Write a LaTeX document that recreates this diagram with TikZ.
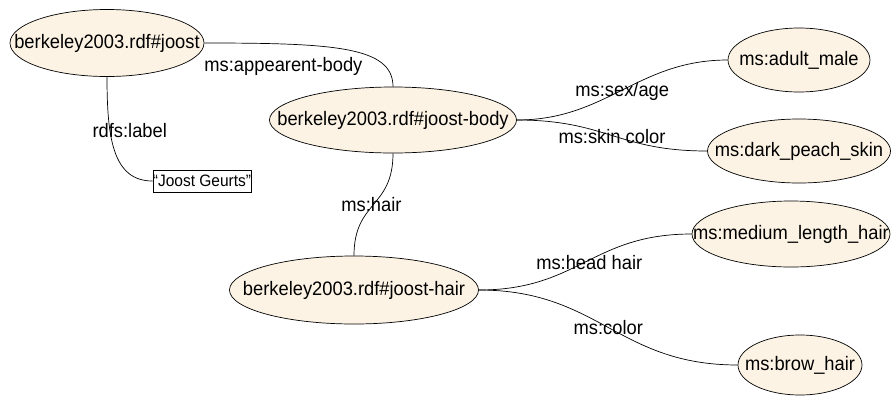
\documentclass[tikz,border=0pt]{standalone}
\usepackage{fontspec}
\setmainfont{Liberation Sans}[FakeStretch=0.94]
\usetikzlibrary{shapes.geometric}
\definecolor{cream}{HTML}{FCF3E4}
\newcommand\zw[1]{\makebox[0pt]{#1}}
\begin{document}
\begin{tikzpicture}[x=1pt,y=-1pt,
  res/.style={ellipse,draw=black,line width=0.7pt,fill=cream,inner sep=0pt,
    font=\fontsize{19.5}{22}\selectfont},
  lit/.style={rectangle,draw=black,line width=0.7pt,fill=white,inner sep=0pt,
    font=\fontsize{16.5}{19}\selectfont},
  edge/.style={draw=black,line width=0.7pt},
  elabel/.style={font=\fontsize{19.5}{22}\selectfont,inner sep=0pt}]
\useasboundingbox (0,0) rectangle (892,397);
\node[res,minimum width=194pt,minimum height=67pt] (joost) at (107,43) {\zw{berkeley2003.rdf\#joost}};
\node[res,minimum width=247pt,minimum height=66pt] (body) at (393,120) {\zw{berkeley2003.rdf\#joost-body}};
\node[res,minimum width=142pt,minimum height=64pt] (adult) at (799,60) {\zw{ms:adult\_male}};
\node[res,minimum width=183pt,minimum height=64pt] (peach) at (799,151) {\zw{ms:dark\_peach\_skin}};
\node[res,minimum width=249pt,minimum height=68pt] (hair) at (354,290) {\zw{berkeley2003.rdf\#joost-hair}};
\node[res,minimum width=198pt,minimum height=66pt] (medium) at (791,234) {\zw{ms:medium\_length\_hair}};
\node[res,minimum width=124pt,minimum height=60pt] (brow) at (800,365) {\zw{ms:brow\_hair}};
\node[lit,minimum width=98pt,minimum height=22pt] (lit) at (202,181) {“Joost Geurts”};

\path[edge] (joost.east) .. controls +(130,0) and +(0,-40) .. (body.north)
  node[elabel,pos=0.5,xshift=-64pt,yshift=-17pt] (l1) {ms:appearent-body};
\path[edge] (joost.south) .. controls +(0,60) and +(-40,0) .. (lit.west)
  node[elabel,pos=0.5,xshift=15pt,yshift=21pt] (l2) {rdfs:label};
\path[edge] (body.east) .. controls +(90,0) and +(-90,0) .. (adult.west)
  node[elabel,pos=0.5,yshift=-1pt] (l3) {ms:sex/age};
\path[edge] (body.east) .. controls +(90,0) and +(-90,0) .. (peach.west)
  node[elabel,pos=0.5,yshift=-1pt] (l4) {ms:skin color};
\path[edge] (body.south) .. controls +(0,55) and +(0,-55) .. (hair.north)
  node[elabel,pos=0.5,xshift=-2pt] (l5) {ms:hair};
\path[edge] (hair.east) .. controls +(100,0) and +(-100,0) .. (medium.west)
  node[elabel,pos=0.5,xshift=4pt,yshift=-1pt] (l6) {ms:head hair};
\path[edge] (hair.east) .. controls +(120,0) and +(-120,0) .. (brow.west)
  node[elabel,pos=0.5] (l7) {ms:color};
\end{tikzpicture}
\end{document}
